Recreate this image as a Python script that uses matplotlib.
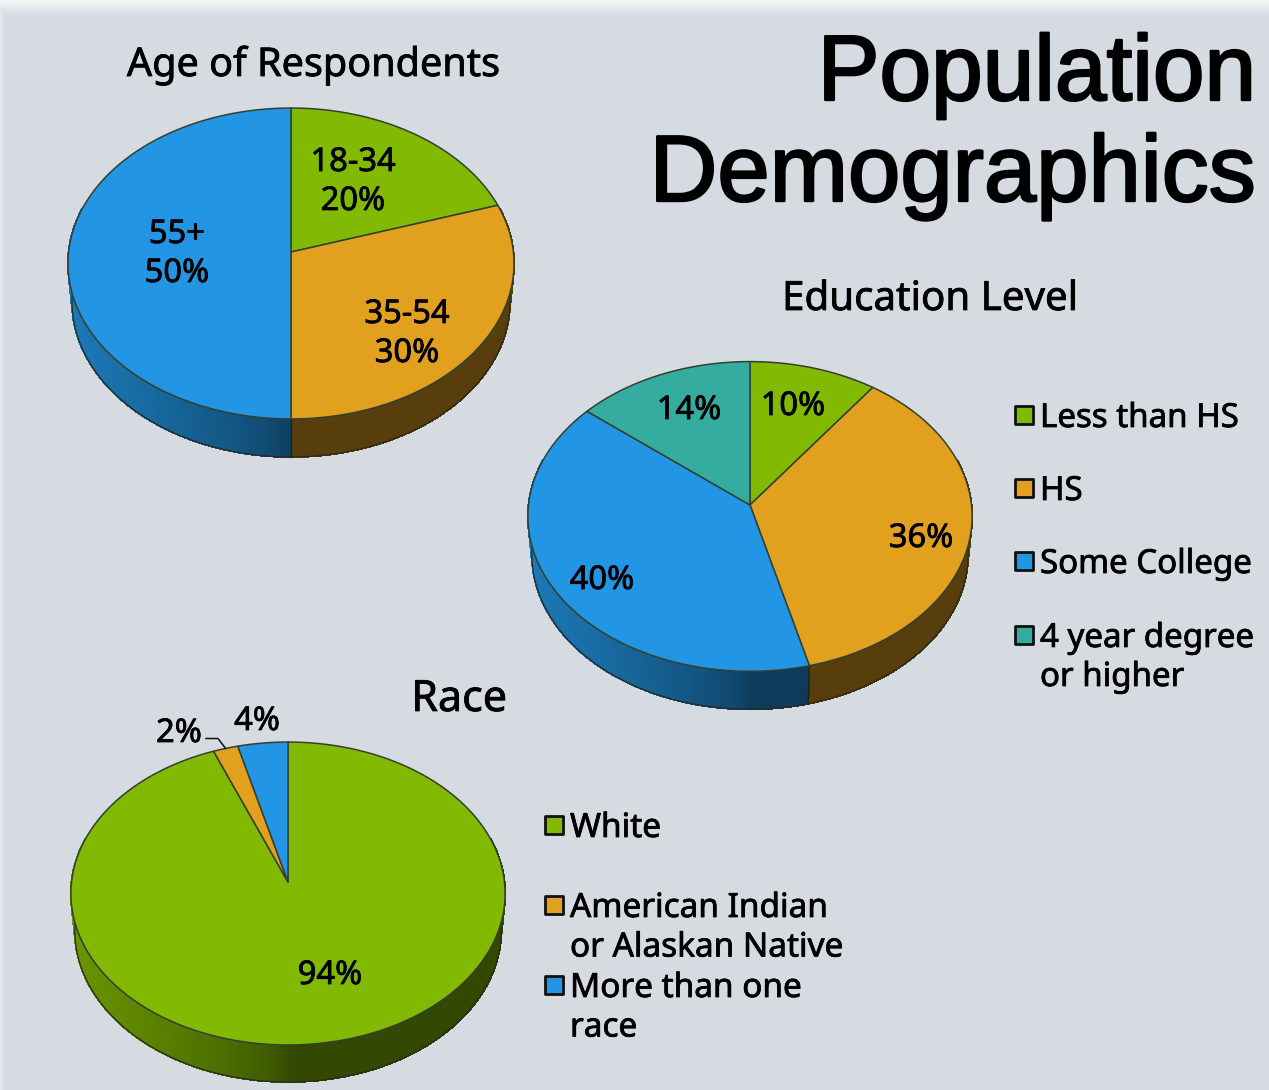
import numpy as np
import matplotlib
matplotlib.use("Agg")
import matplotlib.pyplot as plt
from matplotlib.patches import Rectangle
import matplotlib.patheffects as pe
from matplotlib.colors import to_rgb

W, H = 1269, 1090

GREEN = "#82B902"
ORANGE = "#E2A01F"
BLUE = "#2296E4"
TEAL = "#35ACA0"

age_labels = ["18-34", "35-54", "55+"]
age_values = [20, 30, 50]
age_colors = [GREEN, ORANGE, BLUE]

edu_labels = ["Less than HS", "HS", "Some College", "4 year degree\nor higher"]
edu_values = [10, 36, 40, 14]
edu_colors = [GREEN, ORANGE, BLUE, TEAL]

race_labels = ["White", "American Indian\nor Alaskan Native", "More than one\nrace"]
race_values = [94, 2, 4]
race_colors = [GREEN, ORANGE, BLUE]

LABEL_FONT = ["Noto Sans", "DejaVu Sans"]
LABEL_PT = 23.5
HEAVY = [pe.withStroke(linewidth=0.55, foreground="black")]


def project(geo, theta, r=1.0, shrink=1.0, drop=0.0):
    # tilted disc seen in perspective, theta runs clockwise from 12 o'clock
    cx, cy, a, b, k = geo
    u = r * np.sin(theta)
    v = r * np.cos(theta)
    w = 1 + k * v
    return cx + a * shrink * u / w, cy - b * v / w + drop


def pie3d(ax, geo, values, colors, depth=38, shrink=0.982):
    edges = np.radians(np.cumsum([0] + list(values)) * 3.6)

    # side wall first, the top face covers whatever is behind it
    for start, end, color in zip(edges[:-1], edges[1:], colors):
        steps = np.arange(start, end + 0.01, np.radians(1.0))
        steps = np.append(steps, end)
        base = np.array(to_rgb(color))
        for t0, t1 in zip(steps[:-1], steps[1:]):
            tm = (t0 + t1) / 2
            if np.cos(tm) > 0.3:
                continue
            x0, y0 = project(geo, t0)
            x1, y1 = project(geo, t1)
            x2, y2 = project(geo, t1, shrink=shrink, drop=depth)
            x3, y3 = project(geo, t0, shrink=shrink, drop=depth)
            side = max(-np.sin(tm), 0.0)
            shade = base * (0.39 + 0.42 * side ** 0.6)
            ax.fill([x0, x1, x2, x3], [y0, y1, y2, y3], color=shade, lw=0.8,
                    antialiased=False, zorder=2)

    # lower rim and the seams between slices
    rim = np.linspace(np.radians(75), np.radians(285), 200)
    xr, yr = project(geo, rim, shrink=shrink, drop=depth)
    ax.plot(xr, yr, color="#2a2a20", lw=0.9, zorder=3)
    for t in edges[:-1]:
        if np.cos(t) < 0:
            x0, y0 = project(geo, t)
            x1, y1 = project(geo, t, shrink=shrink, drop=depth)
            ax.plot([x0, x1], [y0, y1], color="#222222", lw=1.0, zorder=3)

    # top face
    cx, cy = geo[0], geo[1]
    for start, end, color in zip(edges[:-1], edges[1:], colors):
        t = np.linspace(start, end, 150)
        x, y = project(geo, t)
        ax.fill(np.r_[cx, x], np.r_[cy, y], facecolor=color, edgecolor="#33402f",
                lw=1.1, joinstyle="round", zorder=4)
    return edges


def label(ax, x, y, text, pt=LABEL_PT, ha="center"):
    ax.text(x, y, text, fontsize=pt, ha=ha, va="baseline", color="black",
            family=LABEL_FONT, path_effects=HEAVY, zorder=6)


def swatches(ax, x, ys, colors, labels, text_x, baselines, step, pt):
    for y, color in zip(ys, colors):
        ax.add_patch(Rectangle((x, y - 9), 18, 18, facecolor=color, edgecolor="#101010",
                               lw=2.0, joinstyle="round", zorder=5))
    for base, name in zip(baselines, labels):
        for i, line in enumerate(name.split("\n")):
            label(ax, text_x, base + i * step, line, pt=pt, ha="left")


fig = plt.figure(figsize=(W / 100, H / 100), dpi=100)
ax = fig.add_axes([0, 0, 1, 1])

# slide background with a pale band along the top and left edges
yy, xx = np.mgrid[0:H, 0:W]
glow = np.maximum(np.clip(1 - yy / 17, 0, 1) ** 1.3, 0.45 * np.clip(1 - xx / 5, 0, 1))
bg = np.array(to_rgb("#D6DBE2"))
back = bg + (np.array(to_rgb("#F6F7F8")) - bg) * glow[..., None]
ax.imshow(back, extent=(0, W, H, 0), aspect="auto", zorder=0, interpolation="bilinear")
ax.set_xlim(0, W)
ax.set_ylim(H, 0)
ax.axis("off")

# title
stroke = [pe.withStroke(linewidth=1.7, foreground="black")]
ax.text(1256, 100, "Population", fontsize=66.8, family="Liberation Sans", ha="right",
        va="baseline", color="black", path_effects=stroke, zorder=6)
ax.text(1256, 201, "Demographics", fontsize=67.7, family="Liberation Sans", ha="right",
        va="baseline", color="black", path_effects=stroke, zorder=6)

# age
age_geo = (291, 252, 222.4, 154.6, 0.074)
pie3d(ax, age_geo, age_values, age_colors)
label(ax, 313, 76, "Age of Respondents", pt=28.5)
for name, value, x, y in zip(age_labels, age_values, [353, 407, 177], [171, 323, 243]):
    label(ax, x, y, name)
    label(ax, x, y + 39, f"{value}%")

# education
edu_geo = (750, 505, 221.5, 154.0, 0.074)
pie3d(ax, edu_geo, edu_values, edu_colors)
label(ax, 930, 310, "Education Level", pt=29)
for value, x, y in zip(edu_values, [793, 921, 602, 689], [415, 547, 589, 419]):
    label(ax, x, y, f"{value}%")
swatches(ax, 1015, [415, 488, 561, 635], edu_colors, edu_labels, 1040,
         [427, 500, 573, 647], 39, 23.8)

# race
race_geo = (288, 882, 216.5, 150.6, 0.076)
race_edges = pie3d(ax, race_geo, race_values, race_colors, depth=37)
label(ax, 459, 711, "Race", pt=31)
for value, x, y in zip(race_values, [330, 179, 257], [984, 742, 730]):
    label(ax, x, y, f"{value}%")
# leader from the small slice out to its label
mx, my = project(race_geo, (race_edges[1] + race_edges[2]) / 2)
ax.plot([206, 218, mx], [738.5, 738.5, my], color="#111111", lw=1.1, zorder=5)
swatches(ax, 545, [825, 905, 985], race_colors, race_labels, 570,
         [837, 917, 997], 39.5, 24)

fig.savefig("out.png", dpi=100)
